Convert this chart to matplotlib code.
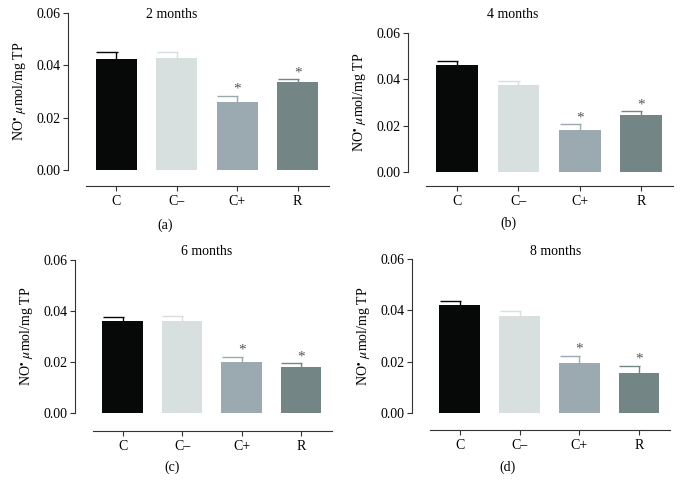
import matplotlib
matplotlib.use("Agg")
import matplotlib.pyplot as plt
import numpy as np

plt.rcParams['font.family'] = ['Liberation Serif', 'DejaVu Serif']
plt.rcParams['mathtext.fontset'] = 'stix'

categories = ["C", "C–", "C+", "R"]
titles = ["2 months", "4 months", "6 months", "8 months"]
panel_labels = ["(a)", "(b)", "(c)", "(d)"]
means_2m = [0.0424, 0.0427, 0.0259, 0.0335]
errs_2m = [0.0026, 0.0025, 0.0025, 0.0012]
means_4m = [0.0462, 0.0376, 0.0181, 0.0246]
errs_4m = [0.0018, 0.0018, 0.0025, 0.0017]
means_6m = [0.0359, 0.0359, 0.0200, 0.0180]
errs_6m = [0.0016, 0.0020, 0.0020, 0.0015]
means_8m = [0.0422, 0.0377, 0.0195, 0.0157]
errs_8m = [0.0013, 0.0022, 0.0027, 0.0028]
signif = [False, False, True, True]
yticks = [0.00, 0.02, 0.04, 0.06]
colors = ["#070909", "#d8e0df", "#9aaab0", "#738585"]

W, H = 683, 498
fig = plt.figure(figsize=(W / 100, H / 100), dpi=100)

# pixel layout: left, right, top(0.06), bottom(0.00), x-line y
layouts = [
    (68, 329, 13, 170, 186),
    (408, 673, 33, 172, 186),
    (75, 332, 260, 413, 431),
    (412, 670, 259, 413, 430),
]
title_pos = [(172, 14), (513, 14), (207, 251), (556, 251)]
label_pos = [(165, 225), (508, 223), (172, 467), (508, 467)]
data = [(means_2m, errs_2m), (means_4m, errs_4m), (means_6m, errs_6m), (means_8m, errs_8m)]

spine_col = "#333333"
for i, ((l, r, t, b, xl), (m, e)) in enumerate(zip(layouts, data)):
    ax = fig.add_axes([l / W, 1 - b / H, (r - l) / W, (b - t) / H])
    x = np.arange(len(categories))
    ax.bar(x, m, width=0.68, color=colors, zorder=2)
    for xi, mi, ei, c in zip(x, m, e, colors):
        ax.vlines(xi, mi, mi + ei, color=c, lw=1.0, zorder=1)
        ax.hlines(mi + ei, xi - 0.33, xi + 0.02, color=c, lw=1.0, zorder=1)
    for xi, mi, ei, s in zip(x, m, e, signif):
        if s:
            ax.annotate("*", (xi, mi + ei), xytext=(0, 0), textcoords="offset points",
                        ha="center", va="bottom", fontsize=11, color="#555555")
    ax.set_xlim(-0.8, 3.52)
    ax.set_ylim(0, 0.06)
    ax.set_yticks(yticks)
    ax.set_yticklabels([f"{v:.2f}" for v in yticks], fontsize=10)
    ax.set_xticks(x)
    ax.set_xticklabels(categories, fontsize=10)
    for s in ["top", "right"]:
        ax.spines[s].set_visible(False)
    ax.spines["left"].set_color(spine_col)
    ax.spines["left"].set_linewidth(0.8)
    ax.spines["bottom"].set_color(spine_col)
    ax.spines["bottom"].set_linewidth(0.8)
    ax.spines["bottom"].set_position(("outward", (xl - b) * 0.72))
    ax.spines["bottom"].set_bounds(-0.5, 3.52)
    ax.tick_params(axis="both", direction="out", length=3.5, width=0.8, color=spine_col, pad=2)
    ax.tick_params(axis="x", pad=3)
    ax.set_ylabel(r"NO$^{\bullet}$ $\mu$mol/mg TP", fontsize=10, labelpad=6)
    ax.patch.set_alpha(0)
    tx, ty = title_pos[i]
    fig.text(tx / W, 1 - ty / H, titles[i], ha="center", va="center", fontsize=10)
    px, py = label_pos[i]
    fig.text(px / W, 1 - py / H, panel_labels[i], ha="center", va="center", fontsize=10)

fig.savefig("out.png", dpi=100)
